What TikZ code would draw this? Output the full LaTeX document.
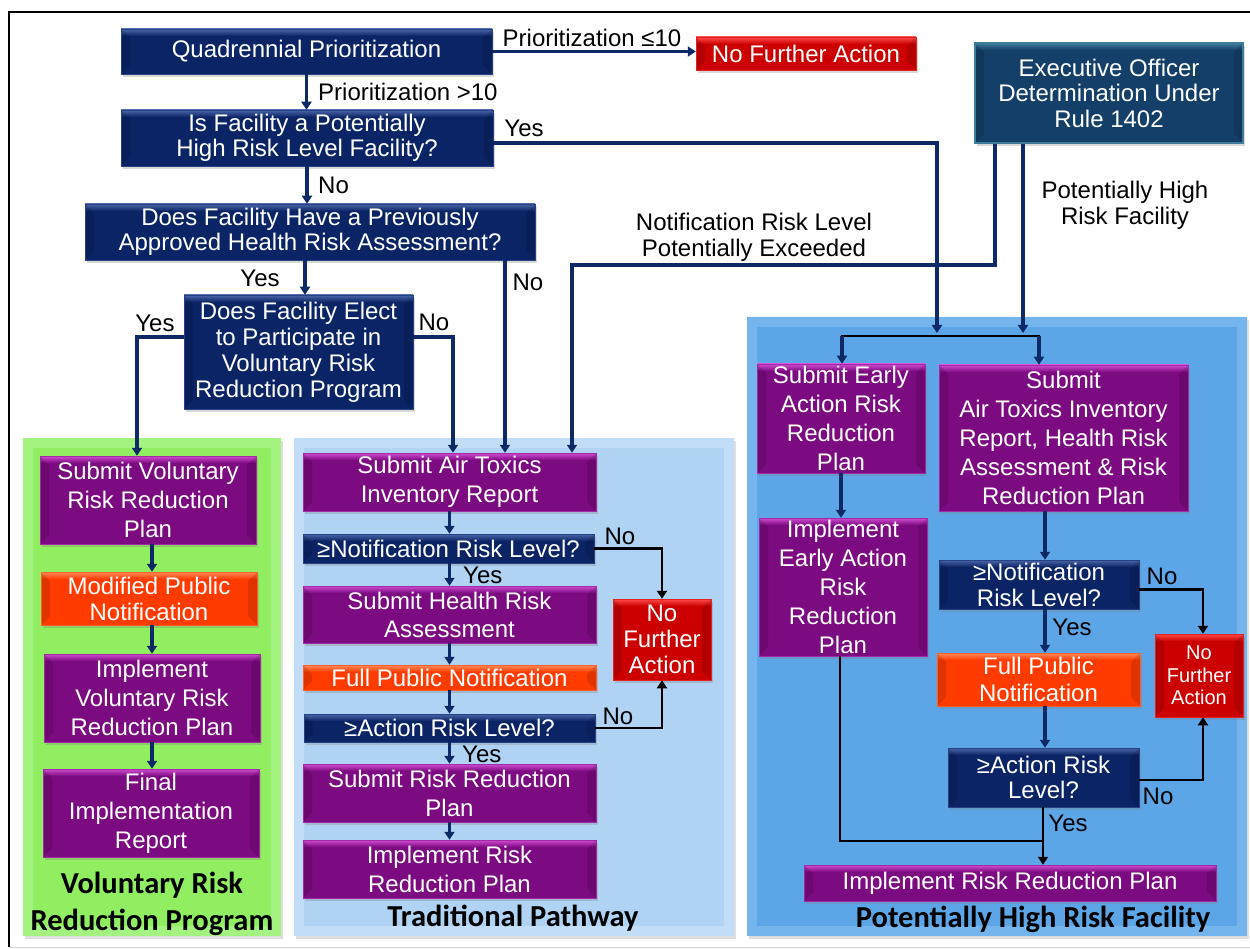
\documentclass[tikz,border=0pt]{standalone}
\usepackage{fontspec}
\setmainfont{Liberation Sans}
\newfontfamily\labfont{Carlito}
\usetikzlibrary{arrows.meta,shadows,calc}
\definecolor{navy}{HTML}{0B2466}
\definecolor{navyL}{HTML}{4A66A8}
\definecolor{execB}{HTML}{143F68}
\definecolor{execL}{HTML}{3F7C9C}
\definecolor{purp}{HTML}{7C0A80}
\definecolor{purpL}{HTML}{D24CD2}
\definecolor{oran}{HTML}{FF3B00}
\definecolor{oranL}{HTML}{FF8A5A}
\definecolor{redb}{HTML}{CC0000}
\definecolor{redL}{HTML}{FF4A4A}
\definecolor{grn}{HTML}{90EE60}
\definecolor{grnL}{HTML}{B8F8A0}
\definecolor{trd}{HTML}{B0D3F3}
\definecolor{trdL}{HTML}{D2E8FB}
\definecolor{phr}{HTML}{5CA6E8}
\definecolor{phrL}{HTML}{8CC4F2}
\definecolor{lnav}{HTML}{0E2A66}
\tikzset{
  bev/.style 2 args={fill=#1, draw=#2!45!#1, line width=0.5pt, text=white, align=center, inner sep=0pt,
    drop shadow={shadow xshift=2pt, shadow yshift=-3pt, opacity=0.3},
    path picture={
      \path (path picture bounding box.north west) coordinate (pA)
            (path picture bounding box.south east) coordinate (pB);
      \shade[top color=#2, bottom color=#1] (pA) rectangle ($(pA -| pB)+(0,7)$);
      \fill[black, opacity=0.12] (pA) -- ++(9,9) -- ($(pA |- pB)+(9,-9)$) -- (pA |- pB) -- cycle;
      \fill[black, opacity=0.12] (pA -| pB) -- ++(-9,9) -- ($(pB)+(-9,-9)$) -- (pB) -- cycle;
    }},
  navyb/.style={bev={navy}{navyL}},
  purpb/.style={bev={purp}{purpL}},
  oranb/.style={bev={oran}{oranL}},
  redbx/.style={bev={redb}{redL}},
  execbx/.style={bev={execB}{execL}, draw=execL, line width=1.5pt},
  f24/.style={font=\fontsize{24}{26}\selectfont},
  f24w/.style={font=\fontsize{24}{29}\selectfont},
  f20/.style={font=\fontsize{20}{22.5}\selectfont},
  panel/.style 2 args={fill=#1, draw=none, inner sep=0pt,
    drop shadow={shadow xshift=2pt, shadow yshift=-3pt, opacity=0.25},
    path picture={
      \path (path picture bounding box.north west) coordinate (pA)
            (path picture bounding box.south east) coordinate (pB);
      \fill[#2, opacity=0.5, even odd rule] (pA) rectangle (pB) ($(pA)+(10,10)$) rectangle ($(pB)+(-10,-10)$);
    }},
  lbl/.style={font=\fontsize{24}{26}\selectfont, text=black, inner sep=0pt, align=center},
  ttl/.style={font=\labfont\bfseries\fontsize{30.5}{37}\selectfont, text=black, inner sep=0pt, align=center},
  ln/.style={draw=lnav, line width=3.2pt},
  arr/.style={ln, -{Triangle[width=10pt,length=8pt]}},
  blk/.style={draw=black, line width=2.6pt},
  barr/.style={blk, -{Triangle[width=10pt,length=8pt]}},
}
\begin{document}
\begin{tikzpicture}[x=1pt,y=-1pt]
\useasboundingbox (0,0) rectangle (1250,949);
\fill[white] (0,0) rectangle (1250,949);
% frame
\draw[black, line width=2.5pt] (1250,12) -- (9,12) -- (9,947);
\draw[gray!35, line width=1pt] (9,947) -- (1250,947);

% panels
\node[panel={grn}{grnL}, minimum width=258pt, minimum height=498pt] (gp) at (152,687) {};
\node[panel={trd}{trdL}, minimum width=440pt, minimum height=498pt] (tp) at (514,687) {};
\node[panel={phr}{phrL}, minimum width=500pt, minimum height=619pt] (pp) at (997,626.5) {};

% top nodes
\node[navyb, f24, minimum width=371pt, minimum height=45pt] (q) at (306.5,51.5) {Quadrennial Prioritization};
\node[redbx, f24, minimum width=220pt, minimum height=33pt] (nfa1) at (806,53.5) {No Further Action};
\node[execbx, font=\fontsize{24}{25.5}\selectfont, minimum width=268pt, minimum height=100pt] (exec) at (1109,93) {Executive Officer\\Determination Under\\Rule 1402};
\node[navyb, font=\fontsize{24}{25}\selectfont, minimum width=372pt, minimum height=56pt] (isf) at (307,138) {Is Facility a Potentially\\High Risk Level Facility?};
\node[navyb, font=\fontsize{24}{25}\selectfont, minimum width=450pt, minimum height=56pt] (hra) at (310,232) {Does Facility Have a Previously\\Approved Health Risk Assessment?};
\node[navyb, f24, minimum width=229pt, minimum height=114pt] (elect) at (298.5,352) {Does Facility Elect\\to Participate in\\Voluntary Risk\\Reduction Program};

% voluntary
\node[purpb, f24w, minimum width=216pt, minimum height=88pt] (svr) at (148,500) {Submit Voluntary\\Risk Reduction\\Plan};
\node[oranb, f24, minimum width=216pt, minimum height=53pt] (mpn) at (149,598.5) {Modified Public\\Notification};
\node[purpb, f24w, minimum width=216pt, minimum height=88pt] (ivr) at (152,698) {Implement\\Voluntary Risk\\Reduction Plan};
\node[purpb, f24w, minimum width=216pt, minimum height=88pt] (fir) at (151,813) {Final\\Implementation\\Report};
\node[ttl] (gpt) at (152,903.5) {Voluntary Risk\\Reduction Program};

% traditional
\node[purpb, f24w, minimum width=293pt, minimum height=58pt] (sat) at (449.5,482) {Submit Air Toxics\\Inventory Report};
\node[navyb, f24, minimum width=291pt, minimum height=29pt] (nrl) at (448.5,548.5) {≥Notification Risk Level?};
\node[purpb, font=\fontsize{24}{28}\selectfont, minimum width=293pt, minimum height=57pt] (shra) at (449.5,614.5) {Submit Health Risk\\Assessment};
\node[oranb, f24, minimum width=293pt, minimum height=25pt] (fpn) at (449.5,677.5) {Full Public Notification};
\node[navyb, f24, minimum width=291pt, minimum height=28pt] (arl) at (449.5,728) {≥Action Risk Level?};
\node[purpb, f24w, minimum width=293pt, minimum height=58pt] (srp) at (449.5,793) {Submit Risk Reduction\\Plan};
\node[purpb, f24w, minimum width=293pt, minimum height=58pt] (irp) at (449.5,869) {Implement Risk\\Reduction Plan};
\node[redbx, f24, minimum width=98pt, minimum height=81pt] (nfa2) at (662,639.5) {No\\Further\\Action};
\node[ttl] (tpt) at (513,918) {Traditional Pathway};

% potentially high risk
\node[purpb, f24w, minimum width=168pt, minimum height=109pt] (sea) at (841,418.5) {Submit Early\\Action Risk\\Reduction\\Plan};
\node[purpb, f24w, minimum width=249pt, minimum height=146pt] (sat2) at (1063.5,438) {Submit\\Air Toxics Inventory\\Report, Health Risk\\Assessment \& Risk\\Reduction Plan};
\node[purpb, f24w, minimum width=168pt, minimum height=138pt] (iea) at (843,587) {Implement\\Early Action\\Risk\\Reduction\\Plan};
\node[navyb, f24, minimum width=200pt, minimum height=49pt] (nrl2) at (1039,584.5) {≥Notification\\Risk Level?};
\node[oranb, font=\fontsize{24}{27}\selectfont, minimum width=203pt, minimum height=53pt] (fpn2) at (1038.5,679.5) {Full Public\\Notification};
\node[navyb, font=\fontsize{24}{25}\selectfont, minimum width=191pt, minimum height=59pt] (arl2) at (1043.5,777.5) {≥Action Risk\\Level?};
\node[redbx, f20, minimum width=88pt, minimum height=83pt] (nfa3) at (1199,675.5) {No\\Further\\Action};
\node[purpb, f24, minimum width=412pt, minimum height=36pt] (irp2) at (1010,883) {Implement Risk Reduction Plan};
\node[ttl] (ppt) at (1033,919) {Potentially High Risk Facility};

% helper coordinates
\coordinate (busL) at (842,336);
\coordinate (busR) at (1039,336);
\coordinate (busA) at (937,333);
\coordinate (busB) at (1023,333);
\coordinate (e1) at (995,265);
\coordinate (e2) at (572,265);
\coordinate (hnx) at (505,0);
\coordinate (enx) at (453,0);
\coordinate (eyx) at (137,0);
\coordinate (px) at (1045,0);
\coordinate (px2) at (1043,0);
\coordinate (jn) at (1043,841);

% top connectors
\draw[arr] (q.east) -- (q.east -| nfa1.west);
\node[lbl] (l1) at (592,38) {Prioritization ≤10};
\draw[arr] (q.south) -- (q.south |- isf.north);
\node[lbl, anchor=west] (l2) at (318,92) {Prioritization >10};
\draw[arr] (isf.south) -- (isf.south |- hra.north);
\node[lbl, anchor=west] (l3) at (318,185) {No};
\draw[arr] ([xshift=-5pt]hra.south) -- ([xshift=-5pt]hra.south |- elect.north);
\node[lbl] (l4) at (260,278) {Yes};
\draw[arr] ([yshift=-5pt]isf.east) -| (busA);
\node[lbl] (l5) at (524,128) {Yes};
\draw[arr] (exec.south -| busB) -- (busB);
\node[lbl] (l6) at (1125,205.5) {Potentially High\\Risk Facility};
\draw[arr] (exec.south -| e1) -- (e1) -- (e2) -- (e2 |- sat.north);
\node[lbl] (l7) at (754,237) {Notification Risk Level\\Potentially Exceeded};
\draw[arr] (hra.south -| hnx) -- (hnx |- sat.north);
\node[lbl] (l8) at (528,282) {No};
\draw[arr] ([yshift=15pt]elect.east) -| (enx |- sat.north);
\node[lbl] (l9) at (434,322) {No};
\draw[arr] ([yshift=15pt]elect.west) -| (eyx |- svr.north);
\node[lbl] (l10) at (155,323) {Yes};

% voluntary chain
\draw[arr] ([xshift=4pt]svr.south) -- ([xshift=4pt]svr.south |- mpn.north);
\draw[arr] ([xshift=3pt]mpn.south) -- ([xshift=3pt]mpn.south |- ivr.north);
\draw[arr] (ivr.south) -- (ivr.south |- fir.north);

% traditional chain
\draw[arr] (sat.south) -- (sat.south |- nrl.north);
\draw[arr] (nrl.south -| sat.south) -- (sat.south |- shra.north);
\node[lbl, anchor=west] (l11) at (463,575) {Yes};
\draw[arr] (shra.south) -- (shra.south |- fpn.north);
\draw[arr] (fpn.south) -- (fpn.south |- arl.north);
\draw[arr] (arl.south) -- (arl.south |- srp.north);
\node[lbl, anchor=west] (l12) at (462,754) {Yes};
\draw[arr] (srp.south) -- (srp.south |- irp.north);
\draw[barr] (nrl.east) -| (nfa2.north);
\node[lbl] (l13) at (620,536) {No};
\draw[barr] (arl.east) -| (nfa2.south);
\node[lbl] (l14) at (618,716) {No};

% PHRF chain
\draw[blk] ([xshift=-1.3pt]busL) -- ([xshift=1.3pt]busR);
\draw[arr] (busL) -- (busL |- sea.north);
\draw[arr] (busR) -- (busR |- sat2.north);
\draw[arr] (sea.south) -- (sea.south |- iea.north);
\draw[arr] (sat2.south -| px) -- (px |- nrl2.north);
\draw[arr] (nrl2.south -| px) -- (px |- fpn2.north);
\node[lbl] (l15) at (1072,627) {Yes};
\draw[arr] (fpn2.south -| px) -- (px |- arl2.north);
\draw[barr] (arl2.south -| px2) -- (px2 |- irp2.north);
\node[lbl] (l16) at (1068,823) {Yes};
\draw[blk] ([xshift=-3pt]iea.south) -- ([xshift=-3pt]iea.south |- jn) -- (jn);
\draw[barr] ([yshift=-5pt]nrl2.east) -| ([xshift=4pt]nfa3.north);
\node[lbl] (l17) at (1162,576) {No};
\draw[barr] ([yshift=-2.5pt]arl2.east) -| ([xshift=4pt]nfa3.south);
\node[lbl] (l18) at (1158,796) {No};
\end{tikzpicture}
\end{document}
